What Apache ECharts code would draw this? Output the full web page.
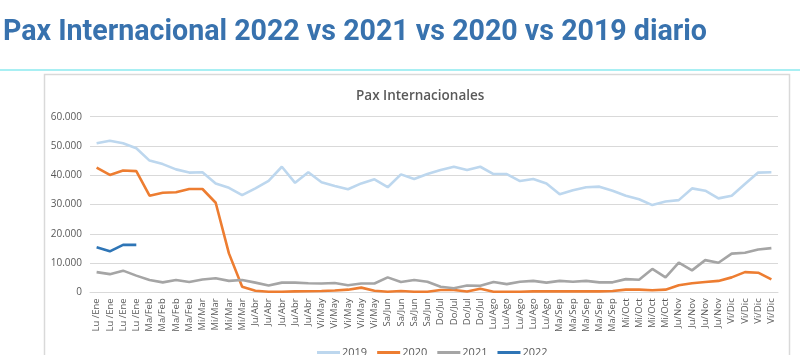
<!DOCTYPE html>
<html>
<head>
<meta charset="utf-8">
<script src="https://cdn.jsdelivr.net/npm/echarts@6/dist/echarts.min.js"></script>
<style>
html,body{margin:0;padding:0;background:#fff;}
#chart{width:800px;height:355px;}
</style>
</head>
<body>
<div id="chart"></div>
<script>
const categories = [
  'Lu /Ene','Lu /Ene','Lu /Ene','Lu /Ene',
  'Ma/Feb','Ma/Feb','Ma/Feb','Ma/Feb',
  'Mi/Mar','Mi/Mar','Mi/Mar','Mi/Mar',
  'Ju/Abr','Ju/Abr','Ju/Abr','Ju/Abr','Ju/Abr',
  'Vi/May','Vi/May','Vi/May','Vi/May','Vi/May',
  'Sa/Jun','Sa/Jun','Sa/Jun','Sa/Jun',
  'Do/Jul','Do/Jul','Do/Jul','Do/Jul',
  'Lu/Ago','Lu/Ago','Lu/Ago','Lu/Ago','Lu/Ago',
  'Ma/Sep','Ma/Sep','Ma/Sep','Ma/Sep','Ma/Sep',
  'Mi/Oct','Mi/Oct','Mi/Oct','Mi/Oct',
  'Ju/Nov','Ju/Nov','Ju/Nov','Ju/Nov',
  'Vi/Dic','Vi/Dic','Vi/Dic','Vi/Dic'
];
const pax2019 = [50900,51800,50900,49200,45000,43800,42000,40900,41000,37200,
  35700,33200,35500,38100,42900,37400,41000,37600,36300,35200,
  37200,38600,35900,40300,38700,40400,41800,42900,41800,42900,
  40400,40400,38000,38700,37200,33500,34900,35900,36100,34700,
  33000,31800,29800,31000,31500,35500,34700,32100,33000,37000,
  40900,41000];
const pax2020 = [42600,40100,41600,41400,33000,34000,34200,35300,35300,30600,
  13300,1900,550,200,200,300,350,450,600,900,
  1600,550,200,450,200,200,800,800,300,1200,
  200,200,200,300,300,300,300,300,300,450,
  900,900,700,900,2400,3100,3500,3900,5100,6900,
  6700,4400];
const pax2021 = [6900,6200,7400,5700,4200,3400,4200,3500,4400,4800,
  3900,4200,3300,2300,3300,3300,3100,3000,3200,2400,
  3000,3000,5100,3500,4200,3600,1900,1400,2300,2200,
  3500,2800,3600,3900,3300,3900,3600,3900,3400,3400,
  4500,4300,8000,5100,10100,7500,11000,10100,13200,13500,
  14600,15100];
const pax2022 = [15400,14000,16200,16200];
const yTicks = [0,10000,20000,30000,40000,50000,60000];

const pageTitle = 'Pax Internacional 2022 vs 2021 vs 2020 vs 2019 diario';
const titleFont = 'bold 29px Roboto';
const cv = document.createElement('canvas').getContext('2d');
cv.font = titleFont;
const tw = cv.measureText(pageTitle).width;
const sx = 704 / tw;

function fmt(v){
  if (v === 0) return '0';
  const s = String(Math.round(v));
  return s.replace(/\B(?=(\d{3})+(?!\d))/g, '.');
}

const chart = echarts.init(document.getElementById('chart'), null, {renderer:'canvas'});
const txt = '#595959';
const grid = '#d9d9d9';
const lineW = 2.6;
chart.setOption({
  animation: false,
  backgroundColor: '#fff',
  title: {
    text: 'Pax Internacionales',
    left: 351, top: 84,
    textStyle: {fontFamily: 'Open Sans', fontSize: 13.5, fontWeight: 600, color: txt}
  },
  legend: {
    left: 312, top: 342,
    itemWidth: 23, itemHeight: 3, itemGap: 10,
    icon: 'rect',
    textStyle: {fontFamily: 'Open Sans', fontSize: 11, color: txt, padding: [0,0,0,-3]},
    data: ['2019','2020','2021','2022']
  },
  graphic: [
    {type:'text', left: 3, top: 18, scaleX: sx,
     style:{text: pageTitle, font: titleFont, fill:'#3872ae'}},
    {type:'rect', shape:{x:0,y:69,width:800,height:2}, style:{fill:'#a8eff3'}},
    {type:'rect', shape:{x:44.5,y:74.5,width:745,height:300}, style:{fill:'none', stroke:'#d9d9d9', lineWidth:1.5}}
  ],
  grid: {left: 90, right: 22, top: 116.7, height: 175.6},
  xAxis: {
    type: 'category',
    data: categories,
    boundaryGap: true,
    axisTick: {show:false},
    axisLine: {lineStyle:{color: grid, width:1}},
    axisLabel: {rotate: 90, interval: 0, margin: 6, fontFamily:'Open Sans', fontSize: 9.5, color: txt}
  },
  yAxis: {
    type: 'value',
    min: yTicks[0], max: yTicks[yTicks.length-1], interval: yTicks[1]-yTicks[0],
    axisLine: {show:false}, axisTick:{show:false},
    splitLine: {lineStyle:{color: grid, width:1}},
    axisLabel: {formatter: fmt, margin: 8, fontFamily:'Open Sans', fontSize: 10, color: txt}
  },
  series: [
    {name:'2019', type:'line', data: pax2019, symbol:'none', lineStyle:{width:lineW, color:'#bdd7ee'}, itemStyle:{color:'#bdd7ee'}},
    {name:'2020', type:'line', data: pax2020, symbol:'none', lineStyle:{width:lineW, color:'#ed7d31'}, itemStyle:{color:'#ed7d31'}},
    {name:'2021', type:'line', data: pax2021, symbol:'none', lineStyle:{width:lineW, color:'#a5a5a5'}, itemStyle:{color:'#a5a5a5'}},
    {name:'2022', type:'line', data: pax2022, symbol:'none', lineStyle:{width:lineW, color:'#2e75b6'}, itemStyle:{color:'#2e75b6'}}
  ]
});
</script>
</body>
</html>
